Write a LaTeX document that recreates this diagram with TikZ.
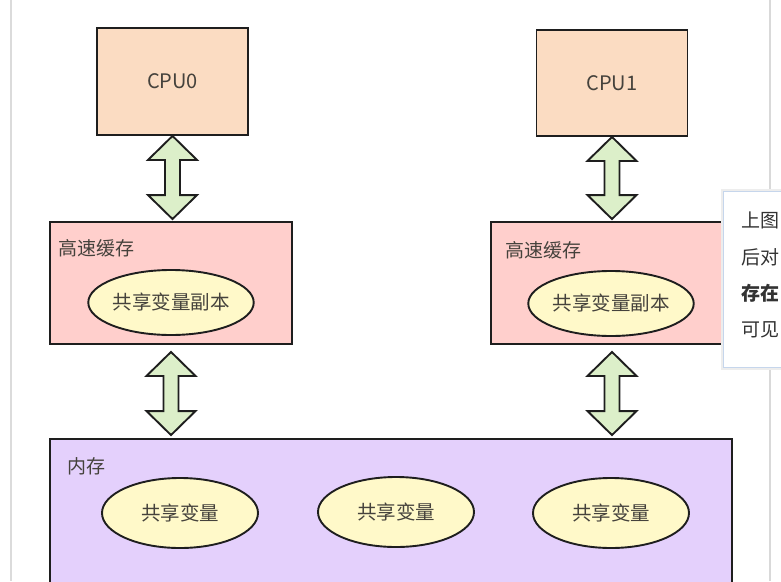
\documentclass[tikz,border=0pt]{standalone}
\usepackage{fontspec}
\setmainfont{Noto Sans CJK SC}
\usetikzlibrary{calc,shapes.geometric}
\definecolor{cpufill}{HTML}{FBDCC2}
\definecolor{cachefill}{HTML}{FFCFCC}
\definecolor{memfill}{HTML}{E4D0FC}
\definecolor{ellfill}{HTML}{FFF9C9}
\definecolor{arrfill}{HTML}{DCEFC9}
\definecolor{edge}{HTML}{1E1E1E}
\definecolor{txt}{HTML}{45423C}
\definecolor{tipedge}{HTML}{C6D6EC}
\definecolor{tiptxt}{HTML}{333333}
\tikzset{
  box/.style={draw=edge, line width=1.9pt, rectangle, inner sep=0pt},
  cpubox/.style={box, fill=cpufill, text=txt, font=\fontsize{20pt}{22pt}\selectfont},
  cachebox/.style={box, fill=cachefill},
  membox/.style={box, fill=memfill},
  ell/.style={draw=edge, line width=1.9pt, ellipse, fill=ellfill, inner sep=0pt, text=txt, font=\fontsize{19.5pt}{21pt}\selectfont},
  lbl/.style={anchor=west, inner sep=0pt, text=txt, font=\fontsize{19pt}{21pt}\selectfont},
  dbl/.style={draw=edge, line width=1.9pt, fill=arrfill, line join=miter},
  tiptext/.style={anchor=west, inner sep=0pt, text=tiptxt, font=\fontsize{19pt}{21pt}\selectfont}
}
\newcommand{\dbarrow}[4]{%
  \draw[dbl] let \p1=(#1.south), \p2=(#2.north) in
    (\x1,\y1-#3) -- (\x1+24.5pt,\y1-#3-24pt) -- (\x1+7.5pt,\y1-#3-24pt)
    -- (\x1+7.5pt,\y2+#4+24pt) -- (\x1+24.5pt,\y2+#4+24pt) -- (\x1,\y2+#4)
    -- (\x1-24.5pt,\y2+#4+24pt) -- (\x1-7.5pt,\y2+#4+24pt)
    -- (\x1-7.5pt,\y1-#3-24pt) -- (\x1-24.5pt,\y1-#3-24pt) -- cycle;}
\begin{document}
\begin{tikzpicture}[x=1pt, y=-1pt]
\path[use as bounding box, clip] (0,0) rectangle (781,581);
\fill[white] (0,0) rectangle (781,581);
% side separators
\draw[line width=2pt, draw=black!14] (11,0) -- (11,581);
\draw[line width=1.5pt, draw=black!15] (770,0) -- (770,581);
% CPUs
\node[cpubox, minimum width=151pt, minimum height=107pt] (cpu0) at (172.5,81.5) {CPU0};
\node[cpubox, minimum width=151pt, minimum height=106pt] (cpu1) at (612,83) {CPU1};
% caches
\node[cachebox, minimum width=242pt, minimum height=122pt] (cache0) at (171,283) {};
\node[cachebox, minimum width=242pt, minimum height=122pt] (cache1) at (612,283) {};
\node[lbl] (cl0) at (58,248) {高速缓存};
\node[lbl] (cl1) at (505,250) {高速缓存};
\node[ell, minimum width=155pt, minimum height=65pt] (copy0) at (171,302.5) {共享变量副本};
\node[ell, minimum width=155pt, minimum height=65pt] (copy1) at (611,303.5) {共享变量副本};
% memory
\node[membox, minimum width=682pt, minimum height=162pt] (mem) at (391,520) {};
\node[lbl] (ml) at (67,466) {内存};
\node[ell, minimum width=156pt, minimum height=70pt] (v0) at (180,513) {共享变量};
\node[ell, minimum width=156pt, minimum height=70pt] (v1) at (396,512) {共享变量};
\node[ell, minimum width=156pt, minimum height=70pt] (v2) at (611,513) {共享变量};
% arrows
\dbarrow{cpu0}{cache0}{0pt}{2pt}
\dbarrow{cpu1}{cache1}{0pt}{2pt}
\dbarrow{cache0}{mem}{7pt}{3pt}
\dbarrow{cache1}{mem}{7pt}{3pt}
% tooltip overlay
\fill[black!7] (721,189) rectangle (800,370);
\node[draw=tipedge, line width=1pt, fill=white, minimum width=80pt, minimum height=176pt, anchor=north west, inner sep=0pt] (tip) at (723,191) {};
\node[tiptext] (t1) at (741,220) {上图};
\node[tiptext] (t2) at (741,257) {后对};
\node[tiptext, font=\fontsize{19pt}{21pt}\selectfont\bfseries] (t3) at (741,293) {存在};
\node[tiptext] (t4) at (741,330) {可见};
\end{tikzpicture}
\end{document}
